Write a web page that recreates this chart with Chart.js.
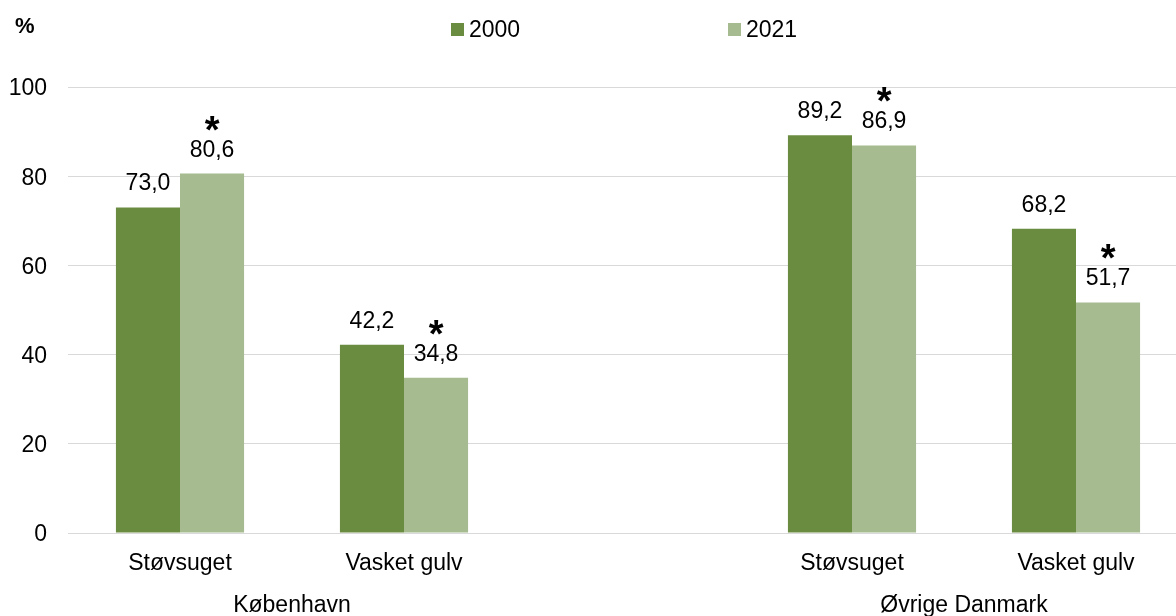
<!DOCTYPE html>
<html>
<head>
<meta charset="utf-8">
<script src="https://cdn.jsdelivr.net/npm/chart.js@4.4.1/dist/chart.umd.min.js"></script>
<style>
    body { margin: 0; background: #fff; overflow: hidden; }
    #wrap { width: 1188px; height: 616px; }
</style>
</head>
<body>
<div id="wrap"><canvas id="rengoering" width="1188" height="616"></canvas></div>
<script>
// Données
const kategorier = ['Støvsuget', 'Vasket gulv', '', 'Støvsuget', 'Vasket gulv'];
const grupper = ['København', 'Øvrige Danmark'];
const aar2000 = [73.0, 42.2, null, 89.2, 68.2];
const aar2021 = [80.6, 34.8, null, 86.9, 51.7];
const stjerne2000 = [false, false, false, false, false];
const stjerne2021 = [true, true, false, true, true]; // signifikant ændring
const yTicks = [0, 20, 40, 60, 80, 100];

const farve2000 = '#6a8c40';
const farve2021 = '#a6bb8f';
const fontFamily = "'Liberation Sans', Arial, sans-serif";
const fontSize = 23;

Chart.defaults.font.family = fontFamily;
Chart.defaults.color = '#000';

// Etiketter over søjlerne (+ stjerne)
const etiketPlugin = {
    id: 'etiketter',
    afterDatasetsDraw(chart) {
        const ctx = chart.ctx;
        const stjerner = [stjerne2000, stjerne2021];
        ctx.save();
        ctx.textAlign = 'center';
        ctx.textBaseline = 'alphabetic';
        ctx.fillStyle = '#000';
        chart.data.datasets.forEach(function (ds, i) {
            chart.getDatasetMeta(i).data.forEach(function (bar, j) {
                const v = ds.data[j];
                if (v === null) return;
                ctx.font = fontSize + 'px ' + fontFamily;
                ctx.fillText(v.toFixed(1).replace('.', ','), bar.x, bar.y - 17);
                if (stjerner[i][j]) {
                    ctx.font = 'bold 38px ' + fontFamily;
                    ctx.fillText('*', bar.x, bar.y - 31);
                }
            });
        });
        ctx.restore();
    }
};

// Gruppe-etiketter, "%" og forklaring
const rammePlugin = {
    id: 'ramme',
    afterDraw(chart) {
        const ctx = chart.ctx;
        const x = chart.scales.x;
        ctx.save();
        ctx.fillStyle = '#000';
        ctx.textBaseline = 'alphabetic';

        ctx.font = fontSize + 'px ' + fontFamily;
        ctx.textAlign = 'center';
        ctx.fillText(grupper[0], (x.getPixelForValue(0) + x.getPixelForValue(1)) / 2, 612);
        ctx.fillText(grupper[1], (x.getPixelForValue(3) + x.getPixelForValue(4)) / 2, 612);

        ctx.font = 'bold 22px ' + fontFamily;
        ctx.textAlign = 'left';
        ctx.fillText('%', 15, 33);

        // forklaring
        const midt = (chart.chartArea.left + chart.chartArea.right) / 2;
        const poster = [
            { tekst: chart.data.datasets[0].label, farve: farve2000, x: midt - 177 },
            { tekst: chart.data.datasets[1].label, farve: farve2021, x: midt + 100 }
        ];
        ctx.font = fontSize + 'px ' + fontFamily;
        poster.forEach(function (p) {
            ctx.fillStyle = p.farve;
            ctx.fillRect(p.x, 23, 13, 13);
            ctx.fillStyle = '#000';
            ctx.fillText(p.tekst, p.x + 18, 37);
        });
        ctx.restore();
    }
};

const ctx = document.getElementById('rengoering').getContext('2d');

new Chart(ctx, {
    type: 'bar',
    data: {
        labels: kategorier,
        datasets: [{
            label: '2000',
            data: aar2000,
            backgroundColor: farve2000,
            categoryPercentage: 0.572,
            barPercentage: 1
        }, {
            label: '2021',
            data: aar2021,
            backgroundColor: farve2021,
            categoryPercentage: 0.572,
            barPercentage: 1
        }]
    },
    options: {
        responsive: false,
        animation: false,
        layout: { padding: { top: 87, right: 0, bottom: 0, left: 0 } },
        plugins: {
            legend: { display: false },
            tooltip: { enabled: false }
        },
        scales: {
            x: {
                grid: { display: false },
                border: { display: false },
                ticks: { font: { size: fontSize }, padding: 9, color: '#000' },
                afterFit: function (scale) { scale.height = 83; }
            },
            y: {
                min: 0,
                max: 100,
                afterBuildTicks: function (scale) {
                    scale.ticks = yTicks.map(function (v) { return { value: v }; });
                },
                grid: { color: '#d9d9d9', drawTicks: false },
                border: { display: false },
                ticks: { font: { size: fontSize }, padding: 21, labelOffset: 2, color: '#000' },
                afterFit: function (scale) { scale.width = 68; }
            }
        }
    },
    plugins: [etiketPlugin, rammePlugin]
});
</script>
</body>
</html>
